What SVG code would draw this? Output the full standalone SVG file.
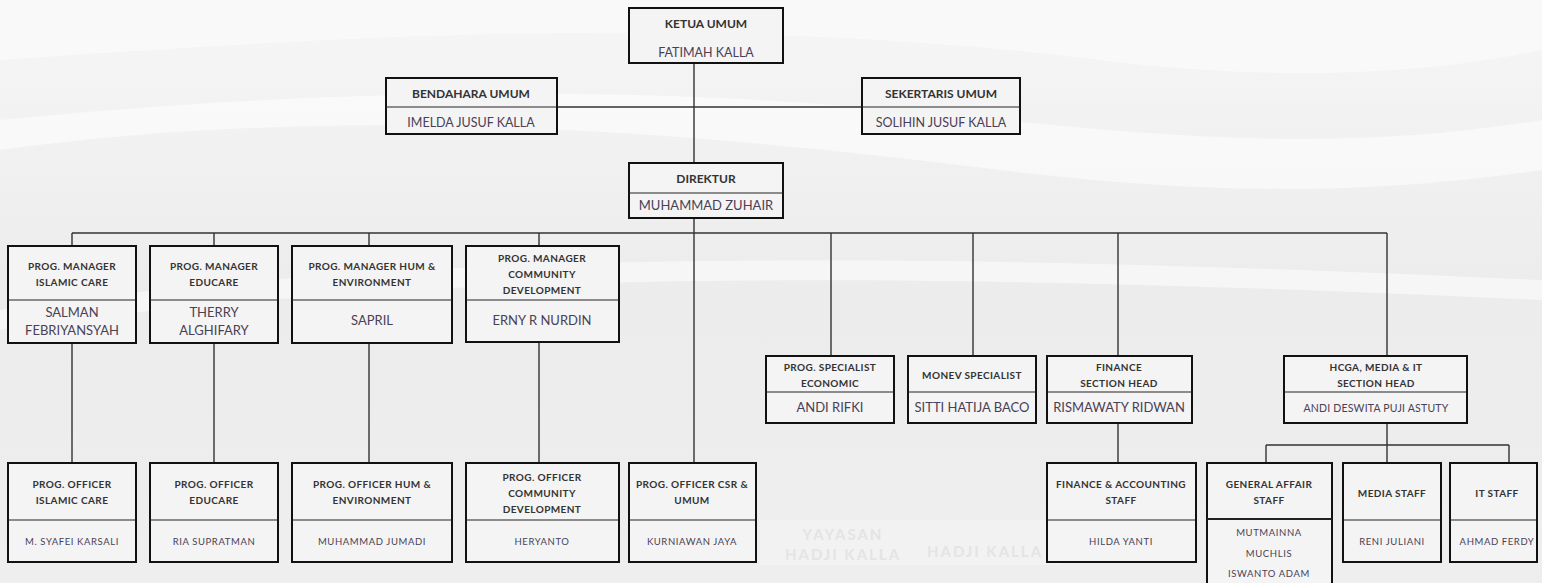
<svg xmlns="http://www.w3.org/2000/svg" width="1542" height="583" viewBox="0 0 1542 583">
<style>
.box{fill:#f4f4f4;stroke:#111;stroke-width:2}
.div{stroke:#222;stroke-width:1.2;fill:none}
.con{stroke:#333;stroke-width:1.4;fill:none}
text{font-family:Lato,"Open Sans","Liberation Sans",sans-serif;text-anchor:middle;fill:#333}
.t1{font-size:12px;font-weight:bold}
.n1{font-size:12.5px;fill:#4a3f55}
.t2{font-size:10px;font-weight:bold;letter-spacing:0.4px}
.n2{font-size:13px;fill:#4a3f55}
.n3{font-size:9.5px;letter-spacing:0.6px;fill:#4a3f55}
.wm{font-size:15px;font-weight:bold;fill:#e4e4e4;letter-spacing:2px}
</style>
<defs>
<linearGradient id="bg" x1="0" y1="0" x2="0" y2="1">
<stop offset="0" stop-color="#f6f6f6"/>
<stop offset="0.5" stop-color="#ececec"/>
<stop offset="1" stop-color="#eeeeee"/>
</linearGradient>
</defs>
<rect width="1542" height="583" fill="url(#bg)"/>
<path d="M0 60 C300 40 700 10 1100 60 C1300 85 1450 70 1542 50 L1542 0 L0 0Z" fill="#fafafa" opacity="0.8"/>
<path d="M0 150 C300 110 600 120 1000 170 C1250 200 1400 190 1542 170 L1542 120 C1350 150 1200 140 1000 120 C650 80 300 90 0 120Z" fill="#ffffff" opacity="0.55"/>
<path d="M0 330 C400 270 900 270 1542 300 L1542 280 C900 250 400 250 0 310Z" fill="#ffffff" opacity="0.5"/>
<rect x="760" y="520" width="300" height="45" fill="#f4f4f4" opacity="0.7"/>
<text class="wm" x="843" y="540">YAYASAN</text>
<text class="wm" x="843" y="560">HADJI KALLA</text>
<text class="wm" x="985" y="557">HADJI KALLA</text>

<g id="connectors">
<path class="con" d="M694 63V163M557 107H862M694 218V463M72 233H1387"/>
<path class="con" d="M72 233V246M214 233V246M369 233V246M539 233V246"/>
<path class="con" d="M831 233V356M973 233V356M1118 233V356M1387 233V356"/>
<path class="con" d="M72 343V463M214 343V463M369 343V463M539 343V463"/>
<path class="con" d="M1118 423V463M1387 423V463M1266 445H1509M1266 445V463M1509 445V463"/>
</g>

<g id="ketua-umum">
<rect class="box" x="629" y="8" width="154" height="55"/>
<text class="t1" x="706" y="28">KETUA UMUM</text>
<text class="n1" x="706" y="57">FATIMAH KALLA</text>
</g>
<g id="bendahara-umum">
<rect class="box" x="386" y="78" width="171" height="56"/>
<line class="div" x1="386" y1="107" x2="557" y2="107"/>
<text class="t1" x="471" y="98">BENDAHARA UMUM</text>
<text class="n1" x="471" y="127">IMELDA JUSUF KALLA</text>
</g>
<g id="sekertaris-umum">
<rect class="box" x="862" y="78" width="158" height="56"/>
<line class="div" x1="862" y1="107" x2="1020" y2="107"/>
<text class="t1" x="941" y="98">SEKERTARIS UMUM</text>
<text class="n1" x="941" y="127">SOLIHIN JUSUF KALLA</text>
</g>
<g id="direktur">
<rect class="box" x="629" y="163" width="154" height="55"/>
<line class="div" x1="629" y1="193" x2="783" y2="193"/>
<text class="t1" x="706" y="183">DIREKTUR</text>
<text class="n2" x="706" y="210">MUHAMMAD ZUHAIR</text>
</g>

<g id="pm-islamic-care">
<rect class="box" x="8" y="246" width="128" height="97"/>
<line class="div" x1="8" y1="300" x2="136" y2="300"/>
<text class="t2" x="72" y="270">PROG. MANAGER</text>
<text class="t2" x="72" y="286">ISLAMIC CARE</text>
<text class="n2" x="72" y="317">SALMAN</text>
<text class="n2" x="72" y="335">FEBRIYANSYAH</text>
</g>
<g id="pm-educare">
<rect class="box" x="150" y="246" width="128" height="97"/>
<line class="div" x1="150" y1="300" x2="278" y2="300"/>
<text class="t2" x="214" y="270">PROG. MANAGER</text>
<text class="t2" x="214" y="286">EDUCARE</text>
<text class="n2" x="214" y="317">THERRY</text>
<text class="n2" x="214" y="335">ALGHIFARY</text>
</g>
<g id="pm-hum-env">
<rect class="box" x="292" y="246" width="160" height="97"/>
<line class="div" x1="292" y1="300" x2="452" y2="300"/>
<text class="t2" x="372" y="270">PROG. MANAGER HUM &amp;</text>
<text class="t2" x="372" y="286">ENVIRONMENT</text>
<text class="n2" x="372" y="325">SAPRIL</text>
</g>
<g id="pm-community-dev">
<rect class="box" x="466" y="246" width="153" height="96"/>
<line class="div" x1="466" y1="300" x2="619" y2="300"/>
<text class="t2" x="542" y="262">PROG. MANAGER</text>
<text class="t2" x="542" y="278">COMMUNITY</text>
<text class="t2" x="542" y="294">DEVELOPMENT</text>
<text class="n2" x="542" y="325">ERNY R NURDIN</text>
</g>

<g id="ps-economic">
<rect class="box" x="766" y="356" width="128" height="67"/>
<line class="div" x1="766" y1="392" x2="894" y2="392"/>
<text class="t2" x="830" y="371">PROG. SPECIALIST</text>
<text class="t2" x="830" y="387">ECONOMIC</text>
<text class="n2" x="830" y="412">ANDI RIFKI</text>
</g>
<g id="monev-specialist">
<rect class="box" x="908" y="356" width="128" height="67"/>
<line class="div" x1="908" y1="392" x2="1036" y2="392"/>
<text class="t2" x="972" y="379">MONEV SPECIALIST</text>
<text class="n2" x="972" y="412">SITTI HATIJA BACO</text>
</g>
<g id="finance-head">
<rect class="box" x="1047" y="356" width="145" height="67"/>
<line class="div" x1="1047" y1="392" x2="1192" y2="392"/>
<text class="t2" x="1119" y="371">FINANCE</text>
<text class="t2" x="1119" y="387">SECTION HEAD</text>
<text class="n2" x="1119" y="412">RISMAWATY RIDWAN</text>
</g>
<g id="hcga-head">
<rect class="box" x="1284" y="356" width="183" height="67"/>
<line class="div" x1="1284" y1="392" x2="1467" y2="392"/>
<text class="t2" x="1376" y="371">HCGA, MEDIA &amp; IT</text>
<text class="t2" x="1376" y="387">SECTION HEAD</text>
<text class="n3" x="1376" y="412" style="font-size:10.5px;letter-spacing:0.2px">ANDI DESWITA PUJI ASTUTY</text>
</g>

<g id="po-islamic-care">
<rect class="box" x="8" y="463" width="128" height="99"/>
<line class="div" x1="8" y1="520" x2="136" y2="520"/>
<text class="t2" x="72" y="488">PROG. OFFICER</text>
<text class="t2" x="72" y="504">ISLAMIC CARE</text>
<text class="n3" x="72" y="545">M. SYAFEI KARSALI</text>
</g>
<g id="po-educare">
<rect class="box" x="150" y="463" width="128" height="99"/>
<line class="div" x1="150" y1="520" x2="278" y2="520"/>
<text class="t2" x="214" y="488">PROG. OFFICER</text>
<text class="t2" x="214" y="504">EDUCARE</text>
<text class="n3" x="214" y="545">RIA SUPRATMAN</text>
</g>
<g id="po-hum-env">
<rect class="box" x="292" y="463" width="160" height="99"/>
<line class="div" x1="292" y1="520" x2="452" y2="520"/>
<text class="t2" x="372" y="488">PROG. OFFICER HUM &amp;</text>
<text class="t2" x="372" y="504">ENVIRONMENT</text>
<text class="n3" x="372" y="545">MUHAMMAD JUMADI</text>
</g>
<g id="po-community-dev">
<rect class="box" x="466" y="463" width="153" height="99"/>
<line class="div" x1="466" y1="520" x2="619" y2="520"/>
<text class="t2" x="542" y="481">PROG. OFFICER</text>
<text class="t2" x="542" y="497">COMMUNITY</text>
<text class="t2" x="542" y="513">DEVELOPMENT</text>
<text class="n3" x="542" y="545">HERYANTO</text>
</g>
<g id="po-csr-umum">
<rect class="box" x="629" y="463" width="127" height="99"/>
<line class="div" x1="629" y1="520" x2="756" y2="520"/>
<text class="t2" x="692" y="488">PROG. OFFICER CSR &amp;</text>
<text class="t2" x="692" y="504">UMUM</text>
<text class="n3" x="692" y="545">KURNIAWAN JAYA</text>
</g>

<g id="finance-staff">
<rect class="box" x="1047" y="463" width="149" height="99"/>
<line class="div" x1="1047" y1="520" x2="1196" y2="520"/>
<text class="t2" x="1121" y="488">FINANCE &amp; ACCOUNTING</text>
<text class="t2" x="1121" y="504">STAFF</text>
<text class="n3" x="1121" y="545">HILDA YANTI</text>
</g>
<g id="general-affair-staff">
<rect class="box" x="1207" y="463" width="125" height="122"/>
<line class="div" x1="1207" y1="519" x2="1332" y2="519" style="stroke-width:2"/>
<text class="t2" x="1269" y="488">GENERAL AFFAIR</text>
<text class="t2" x="1269" y="504">STAFF</text>
<text class="n3" x="1269" y="536">MUTMAINNA</text>
<text class="n3" x="1269" y="557">MUCHLIS</text>
<text class="n3" x="1269" y="577">ISWANTO ADAM</text>
</g>
<g id="media-staff">
<rect class="box" x="1343" y="463" width="98" height="99"/>
<line class="div" x1="1343" y1="520" x2="1441" y2="520"/>
<text class="t2" x="1392" y="497">MEDIA STAFF</text>
<text class="n3" x="1392" y="545">RENI JULIANI</text>
</g>
<g id="it-staff">
<rect class="box" x="1450" y="463" width="87" height="99"/>
<line class="div" x1="1450" y1="520" x2="1537" y2="520"/>
<text class="t2" x="1497" y="497">IT STAFF</text>
<text class="n3" x="1497" y="545">AHMAD FERDY</text>
</g>
</svg>
